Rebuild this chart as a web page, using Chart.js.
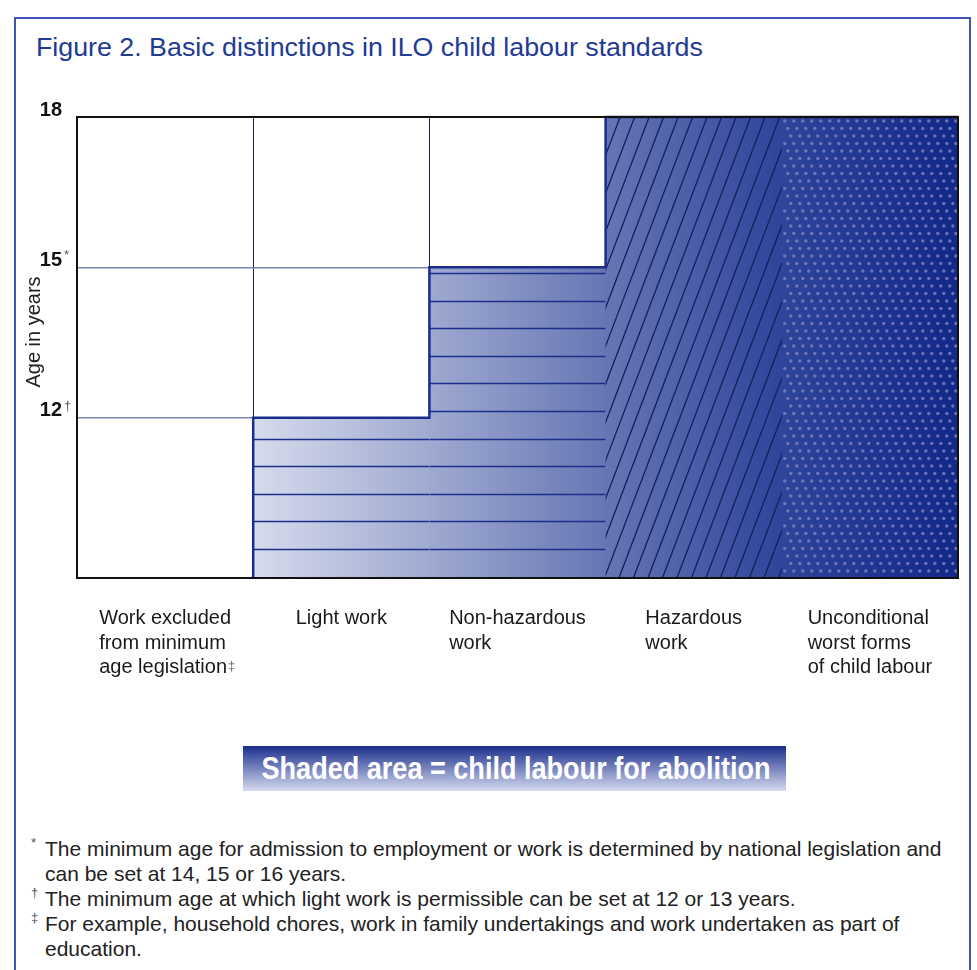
<!DOCTYPE html>
<html>
<head>
<meta charset="utf-8">
<script src="https://cdn.jsdelivr.net/npm/chart.js@4.4.0/dist/chart.umd.min.js"></script>
<style>
  html, body { margin: 0; padding: 0; background: #fff; }
  body { width: 977px; height: 970px; position: relative; overflow: hidden;
         font-family: 'Liberation Sans', Arial, sans-serif; }
  #frame { position: absolute; left: 14px; top: 17px; width: 957px; height: 1000px;
           border: 2px solid #3d56b3; box-sizing: border-box; }
  #title { position: absolute; left: 36px; top: 32px; font-size: 26px; color: #223a94;
           white-space: nowrap; transform-origin: left top; }
  #wrap { position: absolute; left: 0; top: 0; width: 977px; height: 700px; }
  #badge { position: absolute; left: 243px; top: 746px; width: 543px; height: 45px;
           background: linear-gradient(#1b2f8c, #d5daef); }
  #badge span { position: absolute; left: 273px; top: 0; color: #fff; font-weight: bold;
                font-size: 31px; line-height: 45px; white-space: nowrap; }
  #notes { position: absolute; left: 45px; top: 836px; font-size: 21px; line-height: 25px;
           color: #222; }
  #notes div { position: relative; white-space: nowrap; }
  #notes sup { position: absolute; left: -14px; top: -6px; font-size: 13px; color: #555; }
</style>
</head>
<body>
<div id="frame"></div>
<div id="title">Figure 2. Basic distinctions in ILO child labour standards</div>
<div id="wrap"><canvas id="chart" width="977" height="700"></canvas></div>
<div id="badge"><span>Shaded area = child labour for abolition</span></div>
<div id="notes">
  <div><sup>*</sup>The minimum age for admission to employment or work is determined by national legislation and</div>
  <div>can be set at 14, 15 or 16 years.</div>
  <div><sup>†</sup>The minimum age at which light work is permissible can be set at 12 or 13 years.</div>
  <div><sup>‡</sup>For example, household chores, work in family undertakings and work undertaken as part of</div>
  <div>education.</div>
</div>
<script>
// categories (one label per column, split into lines)
const categories = [
  ['Work excluded', 'from minimum', 'age legislation'],
  ['Light work'],
  ['Non-hazardous', 'work'],
  ['Hazardous', 'work'],
  ['Unconditional', 'worst forms', 'of child labour']
];
const categoryMarks = ['‡', '', '', '', ''];

// ages: every bar runs from the axis floor up to its upper age
const ageFloor = 8.8;
const ageTop = [null, 12, 15, 18, 18];

// y axis
const yTicks = [12, 15, 18];
const yTickMarks = { 12: '†', 15: '*', 18: '' };

// fill texture for each column
const textures = [null, 'rows', 'rows', 'hatch', 'dots'];

const barData = ageTop.map(v => v === null ? null : [ageFloor, v]);

function fillGradient(ctx) {
  const chart = ctx.chart;
  const area = chart.chartArea;
  if (!area) return '#6676b4';
  const xs = chart.scales.x;
  // gradient runs from the left edge of the first shaded column to the plot's right edge
  const start = xs.getPixelForValue(0.5);
  const g = chart.ctx.createLinearGradient(start, 0, area.right, 0);
  g.addColorStop(0, '#d6dbec');
  g.addColorStop(0.25, '#9faad0');
  g.addColorStop(0.5, '#6676b4');
  g.addColorStop(0.75, '#2f449a');
  g.addColorStop(1, '#12288a');
  return g;
}

const texturePlugin = {
  id: 'textures',
  afterDatasetsDraw(chart) {
    const ctx = chart.ctx;
    const meta = chart.getDatasetMeta(0);
    meta.data.forEach((bar, i) => {
      if (ageTop[i] === null || !textures[i]) return;
      const { x, y, base, width } = bar.getProps(['x', 'y', 'base', 'width'], true);
      const left = x - width / 2, right = x + width / 2;
      ctx.save();
      ctx.beginPath();
      ctx.rect(left, y, width, base - y);
      ctx.clip();
      if (textures[i] === 'rows') {
        ctx.strokeStyle = '#1c2f8a';
        ctx.lineWidth = 1.3;
        for (let yy = base - 29; yy > y + 3; yy -= 27.6) {
          ctx.beginPath();
          ctx.moveTo(left, Math.round(yy) + 0.5);
          ctx.lineTo(right, Math.round(yy) + 0.5);
          ctx.stroke();
        }
      } else if (textures[i] === 'hatch') {
        const h = base - y;
        const run = h * 0.38;
        ctx.strokeStyle = '#151f5c';
        ctx.lineWidth = 1.3;
        for (let x0 = left - run; x0 < right + 2; x0 += 14.5) {
          ctx.beginPath();
          ctx.moveTo(x0, base);
          ctx.lineTo(x0 + run, y);
          ctx.stroke();
        }
      } else if (textures[i] === 'dots') {
        ctx.fillStyle = 'rgba(135, 135, 190, 0.75)';
        let r = 0;
        for (let yy = y + 4; yy < base; yy += 7.5, r++) {
          const off = (r % 3) * 3;
          for (let xx = left + 3 + off; xx < right; xx += 9) {
            ctx.beginPath();
            ctx.arc(xx, yy, 1.75, 0, Math.PI * 2);
            ctx.fill();
          }
        }
      }
      ctx.restore();
    });
  },
  afterDraw(chart) {
    const ctx = chart.ctx;
    const area = chart.chartArea;
    const meta = chart.getDatasetMeta(0);
    const xs = chart.scales.x, ys = chart.scales.y;

    // step outline of the shaded area
    ctx.save();
    ctx.strokeStyle = '#1a2d8c';
    ctx.lineWidth = 2.5;
    ctx.beginPath();
    let started = false;
    meta.data.forEach((bar, i) => {
      if (ageTop[i] === null) return;
      const { x, y, base, width } = bar.getProps(['x', 'y', 'base', 'width'], true);
      const left = x - width / 2, right = x + width / 2;
      if (!started) { ctx.moveTo(left, base); started = true; }
      ctx.lineTo(left, y);
      ctx.lineTo(right, y);
    });
    ctx.stroke();

    // plot frame
    ctx.strokeStyle = '#111';
    ctx.lineWidth = 2;
    ctx.strokeRect(area.left, area.top, area.right - area.left, area.bottom - area.top);

    // superscript marks on the y ticks
    yTicks.forEach(v => {
      const mark = yTickMarks[v];
      if (!mark) return;
      ctx.fillStyle = '#555';
      ctx.font = '13px "Liberation Sans", Arial, sans-serif';
      ctx.textAlign = 'left';
      ctx.textBaseline = 'alphabetic';
      ctx.fillText(mark, area.left - 13, ys.getPixelForValue(v) - 8);
    });

    // y axis title
    ctx.save();
    ctx.translate(40, 332);
    ctx.rotate(-Math.PI / 2);
    ctx.font = '20px "Liberation Sans", Arial, sans-serif';
    ctx.fillStyle = '#222';
    ctx.textAlign = 'center';
    ctx.textBaseline = 'alphabetic';
    ctx.fillText('Age in years', 0, 0);
    ctx.restore();

    // category labels: block centred on the column, lines left aligned
    ctx.font = '20px "Liberation Sans", Arial, sans-serif';
    ctx.fillStyle = '#1a1a1a';
    ctx.textAlign = 'left';
    ctx.textBaseline = 'alphabetic';
    categories.forEach((lines, i) => {
      const cx = xs.getPixelForValue(i);
      const w = Math.max(...lines.map(l => ctx.measureText(l).width));
      const lx = cx - w / 2;
      lines.forEach((l, k) => {
        const by = area.bottom + 46 + k * 24.5;
        ctx.fillText(l, lx, by);
        if (k === lines.length - 1 && categoryMarks[i]) {
          const tw = ctx.measureText(l).width;
          ctx.save();
          ctx.font = '13px "Liberation Sans", Arial, sans-serif';
          ctx.fillStyle = '#666';
          ctx.fillText(categoryMarks[i], lx + tw + 1, by - 3);
          ctx.restore();
        }
      });
    });
    ctx.restore();
  }
};

new Chart(document.getElementById('chart'), {
  type: 'bar',
  data: {
    labels: categories,
    datasets: [{
      data: barData,
      backgroundColor: fillGradient,
      borderWidth: 0,
      categoryPercentage: 1,
      barPercentage: 1
    }]
  },
  options: {
    responsive: false,
    devicePixelRatio: 1,
    animation: false,
    layout: { padding: { top: 117, right: 19, left: 0, bottom: 0 } },
    plugins: { legend: { display: false }, tooltip: { enabled: false } },
    scales: {
      x: {
        z: 1,
        ticks: { display: false },
        border: { display: false },
        grid: {
          drawTicks: false,
          lineWidth: 1,
          color: ctx => ctx.index === 4 ? 'rgba(125, 110, 155, 0.85)' : '#16216a'
        },
        afterFit: s => { s.height = 122; }
      },
      y: {
        min: ageFloor,
        max: 18,
        afterBuildTicks: s => { s.ticks = yTicks.map(v => ({ value: v })); },
        ticks: {
          padding: 15,
          labelOffset: -7,
          color: '#111',
          font: { family: '"Liberation Sans", Arial, sans-serif', size: 20, weight: 'bold' },
          callback: v => String(v)
        },
        border: { display: false },
        grid: {
          drawTicks: false,
          lineWidth: 1.5,
          color: ctx => ctx.tick && ctx.tick.value === 18 ? '#111' : '#7b86b5'
        },
        afterFit: s => { s.width = 77; }
      }
    }
  },
  plugins: [texturePlugin]
});

// the original type is condensed: squeeze text to the widths measured on the figure
function fit(el, target, centred) {
  const w = el.getBoundingClientRect().width;
  if (w <= 0) return;
  const k = (target / w).toFixed(3);
  el.style.transform = centred ? 'translateX(-50%) scaleX(' + k + ')' : 'scaleX(' + k + ')';
}
const badgeText = document.querySelector('#badge span');
badgeText.style.transformOrigin = 'left center';
{
  const w = badgeText.getBoundingClientRect().width;
  const k = 509 / w;
  badgeText.style.transform = 'translateX(' + (-254.5) + 'px) scaleX(' + k.toFixed(3) + ')';
}
fit(document.getElementById('title'), 667, false);
</script>
</body>
</html>
